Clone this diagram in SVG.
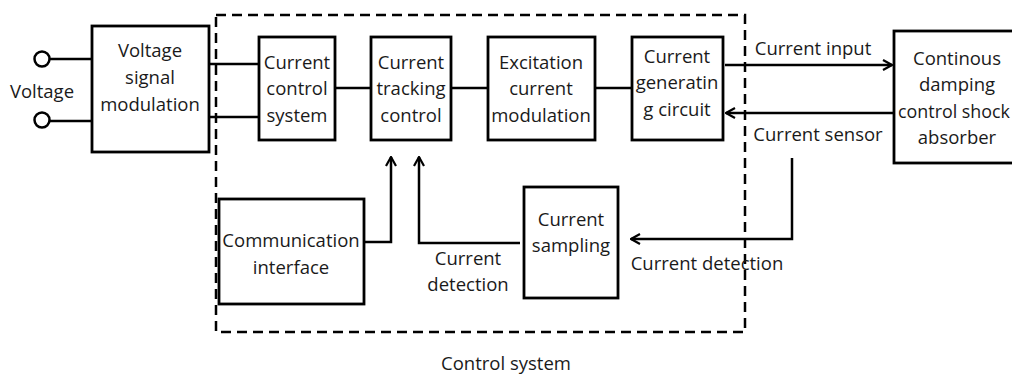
<svg xmlns="http://www.w3.org/2000/svg" width="1012" height="374" viewBox="0 0 1012 374">
<defs>
<marker id="arr" viewBox="0 0 12 12" refX="11" refY="6" markerWidth="12" markerHeight="12" markerUnits="userSpaceOnUse" orient="auto">
<path d="M2,1 L11,6 L2,11" fill="none" stroke="#000" stroke-width="2.2"/>
</marker>
<style>
.b{fill:#fff;stroke:#000;stroke-width:2.8}
.l{fill:none;stroke:#000;stroke-width:2.5}
text{font-family:"Open Sans","Liberation Sans",sans-serif;font-size:18.5px;fill:#1a1a1a;text-anchor:middle;dominant-baseline:central}
</style>
</defs>
<rect width="1012" height="374" fill="#fff"/>
<g id="control-system">
<rect x="216" y="15" width="529" height="317" fill="none" stroke="#000" stroke-width="2.5" stroke-dasharray="10,6"/>
<text x="506" y="362">Control system</text>
</g>
<g id="voltage-input">
<circle cx="42" cy="59" r="7.5" fill="#fff" stroke="#000" stroke-width="2.5"/>
<circle cx="42" cy="120" r="7.5" fill="#fff" stroke="#000" stroke-width="2.5"/>
<text x="42" y="90">Voltage</text>
</g>
<g id="voltage-signal-modulation">
<rect class="b" x="92" y="26" width="117" height="126"/>
<text x="150" y="49">Voltage</text>
<text x="150" y="76">signal</text>
<text x="150" y="103">modulation</text>
</g>
<g id="current-control-system">
<rect class="b" x="259" y="37" width="76" height="103"/>
<text x="297" y="61">Current</text>
<text x="297" y="87">control</text>
<text x="297" y="114">system</text>
</g>
<g id="current-tracking-control">
<rect class="b" x="371" y="37" width="80" height="103"/>
<text x="411" y="61">Current</text>
<text x="411" y="87">tracking</text>
<text x="411" y="114">control</text>
</g>
<g id="excitation-current-modulation">
<rect class="b" x="488" y="37" width="107" height="103"/>
<text x="541" y="61">Excitation</text>
<text x="541" y="87">current</text>
<text x="541" y="114">modulation</text>
</g>
<g id="current-generating-circuit">
<rect class="b" x="632" y="37" width="91" height="103"/>
<text x="677" y="55">Current</text>
<text x="677" y="81">generatin</text>
<text x="677" y="108">g circuit</text>
</g>
<g id="shock-absorber">
<rect class="b" x="894" y="31" width="120" height="132"/>
<text x="957" y="57">Continous</text>
<text x="957" y="83">damping</text>
<text x="898" y="110" style="text-anchor:start" textLength="112" lengthAdjust="spacingAndGlyphs">control shock</text>
<text x="957" y="136">absorber</text>
</g>
<g id="communication-interface">
<rect class="b" x="219" y="199" width="145" height="105"/>
<text x="291" y="239">Communication</text>
<text x="291" y="266">interface</text>
</g>
<g id="current-sampling">
<rect class="b" x="524" y="187" width="94" height="111"/>
<text x="571" y="218">Current</text>
<text x="571" y="244">sampling</text>
</g>
<g id="connectors">
<path class="l" d="M49,59 H92 M49,121 H92"/>
<path class="l" d="M209,64 H259 M209,117 H259"/>
<path class="l" d="M335,88 H371 M451,88 H488 M595,88 H632"/>
<path class="l" d="M725,65 H892" marker-end="url(#arr)"/>
<text x="813" y="47">Current input</text>
<path class="l" d="M893,113 H726" marker-end="url(#arr)"/>
<text x="818" y="133">Current sensor</text>
<path class="l" d="M792,158 V239 H631" marker-end="url(#arr)"/>
<text x="707" y="262">Current detection</text>
<path class="l" d="M364,242 H391 V157" marker-end="url(#arr)"/>
<path class="l" d="M520,243 H419 V157" marker-end="url(#arr)"/>
<text x="468" y="257">Current</text>
<text x="468" y="283">detection</text>
</g>
</svg>
